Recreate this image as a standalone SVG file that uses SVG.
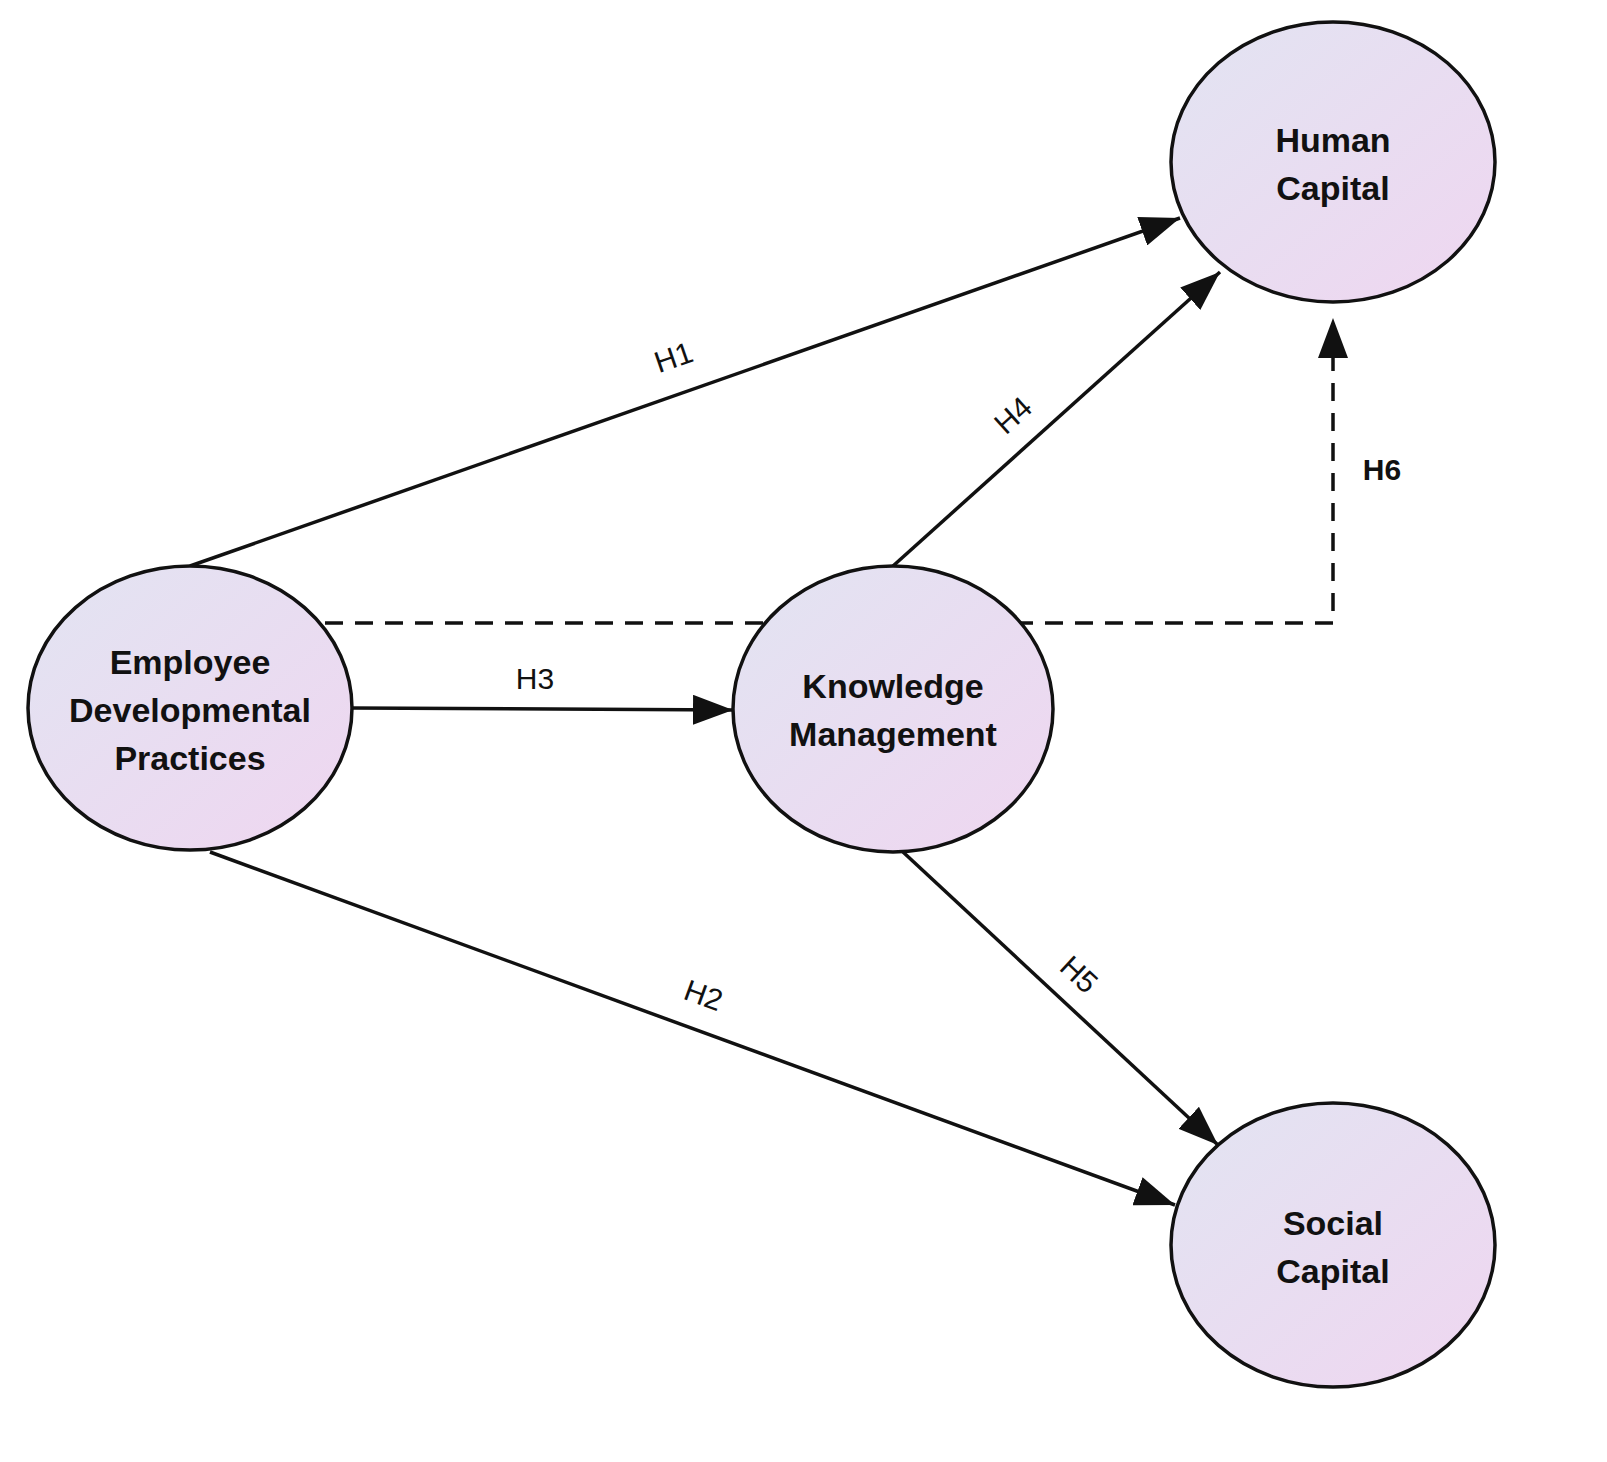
<svg xmlns="http://www.w3.org/2000/svg" width="1607" height="1462" viewBox="0 0 1607 1462">
<style>
.n{stroke:#111;stroke-width:3.5;fill:url(#g)}
.t{font-family:"Liberation Sans",Arial,sans-serif;font-weight:bold;font-size:34px;fill:#111;text-anchor:middle}
.l{font-family:"Liberation Sans",Arial,sans-serif;font-size:30px;fill:#111;text-anchor:middle}
.c{stroke:#111;stroke-width:3.5;fill:none}
</style>
<defs>
<linearGradient id="g" x1="0" y1="0" x2="1" y2="1"><stop offset="0" stop-color="#e2e4f2"/><stop offset="1" stop-color="#efd6f0"/></linearGradient>
<marker id="a" viewBox="0 0 10 10" refX="10" refY="5" markerWidth="12" markerHeight="10" markerUnits="userSpaceOnUse" orient="auto" style="overflow:visible"><path d="M0,0L10,5L0,10z" fill="#111" transform="scale(4)translate(-5,-5)"/></marker>
<marker id="b" viewBox="0 0 40 30" refX="40" refY="15" markerWidth="40" markerHeight="30" markerUnits="userSpaceOnUse" orient="auto"><path d="M0,0L40,15L0,30z" fill="#111"/></marker>
</defs>
<g id="connectors">
<path class="c" d="M325,623H1333V318" stroke-dasharray="18,12" marker-end="url(#b)"/>
<line class="c" x1="190" y1="566" x2="1180" y2="218" marker-end="url(#b)"/>
<line class="c" x1="210" y1="852" x2="1175" y2="1205" marker-end="url(#b)"/>
<line class="c" x1="352" y1="708" x2="733" y2="710" marker-end="url(#b)"/>
<line class="c" x1="893" y1="566" x2="1220" y2="272" marker-end="url(#b)"/>
<line class="c" x1="903" y1="852" x2="1218" y2="1145" marker-end="url(#b)"/>
<text class="l" transform="translate(677,367) rotate(-19)">H1</text>
<text class="l" transform="translate(700,1005) rotate(20)">H2</text>
<text class="l" x="535" y="689">H3</text>
<text class="l" transform="translate(1020,423) rotate(-42)">H4</text>
<text class="l" transform="translate(1072,982) rotate(43)">H5</text>
<text class="l" x="1382" y="480" font-weight="bold">H6</text>
</g>
<g id="human"><ellipse class="n" cx="1333" cy="162" rx="162" ry="140"/><text class="t" x="1333" y="152">Human</text><text class="t" x="1333" y="200">Capital</text></g>
<g id="edp"><ellipse class="n" cx="190" cy="708" rx="162" ry="142"/><text class="t" x="190" y="674">Employee</text><text class="t" x="190" y="722">Developmental</text><text class="t" x="190" y="770">Practices</text></g>
<g id="km"><ellipse class="n" cx="893" cy="709" rx="160" ry="143"/><text class="t" x="893" y="698">Knowledge</text><text class="t" x="893" y="746">Management</text></g>
<g id="social"><ellipse class="n" cx="1333" cy="1245" rx="162" ry="142"/><text class="t" x="1333" y="1235">Social</text><text class="t" x="1333" y="1283">Capital</text></g>
</svg>
